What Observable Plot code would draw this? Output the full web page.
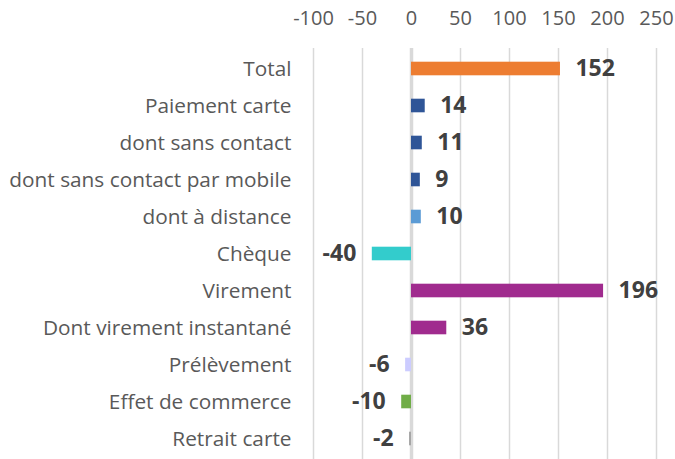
<!DOCTYPE html>
<html>
<head>
<meta charset="utf-8">
<script src="https://cdn.jsdelivr.net/npm/d3@7"></script>
<script src="https://cdn.jsdelivr.net/npm/@observablehq/plot@0.6"></script>
<style>
  html, body { margin: 0; padding: 0; background: #fff; }
  #chart svg { display: block; }
</style>
</head>
<body>
<div id="chart"></div>
<script>
const categories = [
  "Total",
  "Paiement carte",
  "dont sans contact",
  "dont sans contact par mobile",
  "dont à distance",
  "Chèque",
  "Virement",
  "Dont virement instantané",
  "Prélèvement",
  "Effet de commerce",
  "Retrait carte"
];
const values = [152, 14, 11, 9, 10, -40, 196, 36, -6, -10, -2];
const barColors = [
  "#ED7D31", "#2F5597", "#2F5597", "#2F5597", "#5B9BD5",
  "#33CCCC", "#A02B8E", "#A02B8E", "#CCCCFF", "#70AD47", "#A5A5A5"
];
const xTicks = [-100, -50, 0, 50, 100, 150, 200, 250];

const data = categories.map((c, i) => ({category: c, value: values[i]}));

const chart = Plot.plot({
  width: 675,
  height: 459,
  marginTop: 48,
  marginBottom: 0,
  marginLeft: 313,
  marginRight: 19,
  style: {fontFamily: "'Open Sans', Lato, sans-serif", fontSize: "18px", color: "#595959", background: "#fff"},
  x: {domain: [-100, 250], ticks: xTicks, axis: null},
  y: {domain: categories, padding: 0, axis: null},
  color: {domain: categories, range: barColors},
  marks: [
    Plot.ruleX(xTicks.filter(d => d !== 0), {stroke: "#d9d9d9", strokeWidth: 1.5}),
    Plot.ruleX([0], {stroke: "#d9d9d9", strokeWidth: 3.5}),
    Plot.axisX({anchor: "top", ticks: xTicks, tickSize: 0, tickPadding: 24, fontSize: 20, fill: "#595959", label: null, tickFormat: d => String(d)}),
    Plot.axisY({anchor: "left", tickSize: 0, tickPadding: 22, fontSize: 20.8, fill: "#595959", label: null}),
    Plot.barX(data, {
      x1: 0,
      x2: "value",
      y: "category",
      fill: "category",
      insetTop: 11.7,
      insetBottom: 11.7
    }),
    Plot.text(data.filter(d => d.value >= 0), {
      x: "value", y: "category", text: d => String(d.value),
      textAnchor: "start", dx: 15, fontWeight: "bold", fontSize: 23, fill: "#404040"
    }),
    Plot.text(data.filter(d => d.value < 0), {
      x: "value", y: "category", text: d => String(d.value),
      textAnchor: "end", dx: -16, fontWeight: "bold", fontSize: 23, fill: "#404040"
    })
  ]
});
document.getElementById("chart").appendChild(chart);
</script>
</body>
</html>
